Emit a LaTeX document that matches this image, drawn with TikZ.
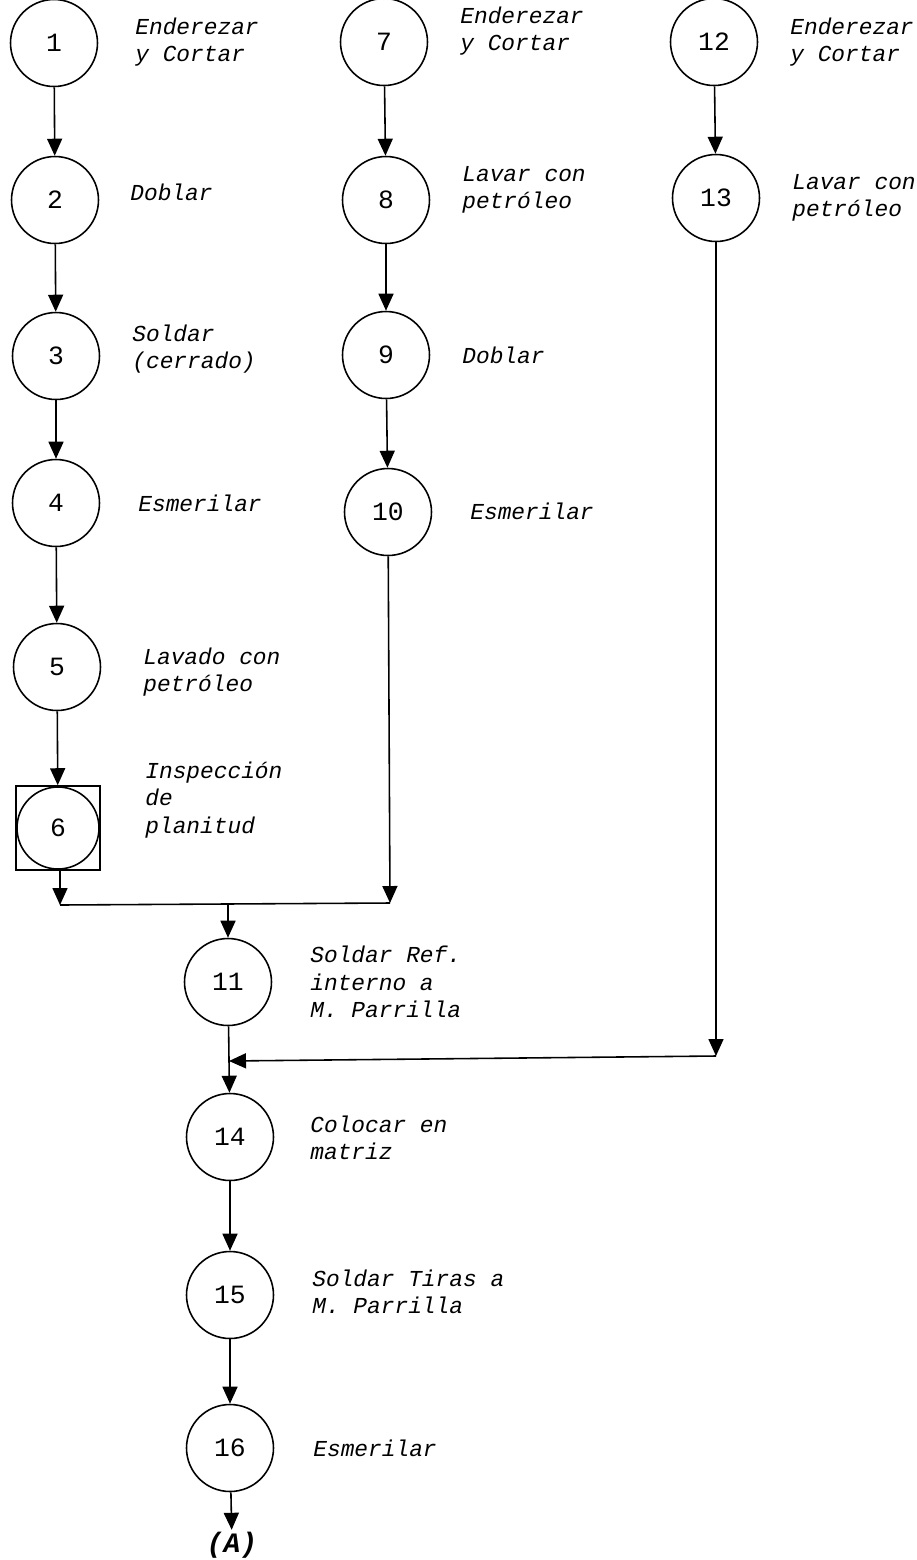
\documentclass[tikz,border=0pt]{standalone}
\usepackage{fontspec}
\setmonofont{Liberation Mono}
\usetikzlibrary{arrows.meta,positioning}

\begin{document}
\begin{tikzpicture}[
  x=0.02cm, y=-0.02cm,
  op/.style={circle, draw, line width=0.9pt, minimum size=1.74cm, inner sep=0pt,
    font=\ttfamily\fontsize{15}{17}\selectfont},
  insp/.style={rectangle, draw, line width=0.9pt, minimum size=1.68cm, inner sep=0pt},
  lbl/.style={anchor=west, align=left, inner sep=0pt,
    font=\ttfamily\itshape\fontsize{13}{15.5}\selectfont},
  arr/.style={line width=0.9pt, -{Triangle[length=0.34cm,width=0.3cm]}},
  ln/.style={line width=0.9pt}
]
\useasboundingbox (0,0) rectangle (917,1560);

% Column 1
\node[op] (n1) at (54,43)  {1};
\node[op] (n2) at (55,200) {2};
\node[op] (n3) at (56,356) {3};
\node[op] (n4) at (56,503) {4};
\node[op] (n5) at (57,667) {5};
\node[op, minimum size=1.64cm] (n6) at (58,828) {6};
\node[insp] (n6box) at (58,828) {};

% Column 2
\node[op] (n7)  at (384,42)  {7};
\node[op] (n8)  at (386,200) {8};
\node[op] (n9)  at (386,355) {9};
\node[op] (n10) at (388,512) {10};

% Column 3
\node[op] (n12) at (714,42)  {12};
\node[op] (n13) at (716,198) {13};

% Middle column
\node[op] (n11) at (228,982)  {11};
\node[op] (n14) at (230,1137) {14};
\node[op] (n15) at (230,1295) {15};
\node[op] (n16) at (230,1448) {16};
\node[font=\ttfamily\bfseries\itshape\fontsize{16}{18}\selectfont, inner sep=1pt] (A) at (232,1545) {(A)};

% Labels
\node[lbl] (l1) at (135,42)  {Enderezar\\y Cortar};
\node[lbl] (l2) at (130,192) {Doblar};
\node[lbl] (l3) at (132,349) {Soldar\\(cerrado)};
\node[lbl] (l4) at (138,503) {Esmerilar};
\node[lbl] (l5) at (143,672) {Lavado con\\petróleo};
\node[lbl] (l6) at (145,800) {Inspección\\de\\planitud};
\node[lbl] (l7) at (460,31)  {Enderezar\\y Cortar};
\node[lbl] (l8) at (462,190) {Lavar con\\petróleo};
\node[lbl] (l9) at (462,355) {Doblar};
\node[lbl] (l10) at (470,511) {Esmerilar};
\node[lbl] (l12) at (790,42)  {Enderezar\\y Cortar};
\node[lbl] (l13) at (792,198) {Lavar con\\petróleo};
\node[lbl] (l11) at (310,982)  {Soldar Ref.\\interno a\\M. Parrilla};
\node[lbl] (l14) at (310,1138) {Colocar en\\matriz};
\node[lbl] (l15) at (312,1292) {Soldar Tiras a\\M. Parrilla};
\node[lbl] (l16) at (313,1448) {Esmerilar};

% Junction points
\coordinate (t1) at (54,0);
\coordinate (t7) at (384,0);
\coordinate (t12) at (714,0);
\coordinate (j1) at (60,905);
\coordinate (j2) at (390,903);
\coordinate (j3) at (228,904);
\coordinate (k1) at (716,1056);
\coordinate (k2) at (229,1061);

% Flow
\draw[ln] (t1) -- (n1);
\draw[ln] (t7) -- (n7);
\draw[ln] (t12) -- (n12);
\draw[arr] (n1) -- (n2);
\draw[arr] (n2) -- (n3);
\draw[arr] (n3) -- (n4);
\draw[arr] (n4) -- (n5);
\draw[arr] (n5) -- (n6box);
\draw[arr] (n7) -- (n8);
\draw[arr] (n8) -- (n9);
\draw[arr] (n9) -- (n10);
\draw[arr] (n12) -- (n13);
\draw[arr] (n6box.south -| j1) -- (j1);
\draw[arr] (n10) -- (j2);
\draw[ln] (j1) -- (j2);
\draw[arr] (j3) -- (n11);
\draw[arr] (n13) -- (k1);
\draw[arr] (k1) -- (k2);
\draw[arr] (n11) -- (n14);
\draw[arr] (n14) -- (n15);
\draw[arr] (n15) -- (n16);
\draw[arr] (n16) -- (A);
\end{tikzpicture}
\end{document}
